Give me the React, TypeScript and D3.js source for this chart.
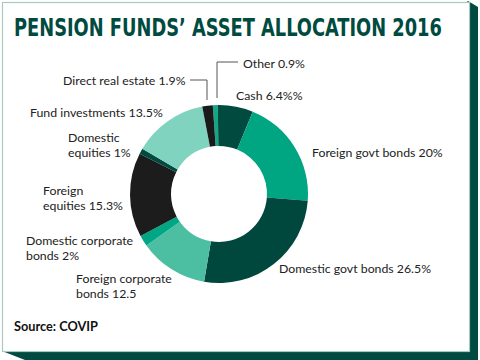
import React from "react";
import * as d3 from "d3";

const categories = [
  "Other",
  "Cash",
  "Foreign govt bonds",
  "Domestic govt bonds",
  "Foreign corporate bonds",
  "Domestic corporate bonds",
  "Foreign equities",
  "Domestic equities",
  "Fund investments",
  "Direct real estate",
];
const values = [0.9, 6.4, 20, 26.5, 12.5, 2, 15.3, 1, 13.5, 1.9];
const colors = [
  "#12a886",
  "#004a3f",
  "#00a582",
  "#00483d",
  "#4cbfa2",
  "#00a784",
  "#1c1c1c",
  "#004a3f",
  "#7fd3bf",
  "#1a1a1a",
];
const labelLines = [
  ["Other 0.9%"],
  ["Cash 6.4%%"],
  ["Foreign govt bonds 20%"],
  ["Domestic govt bonds 26.5%"],
  ["Foreign corporate", "bonds 12.5"],
  ["Domestic corporate", "bonds 2%"],
  ["Foreign", "equities 15.3%"],
  ["Domestic", "equities 1%"],
  ["Fund investments 13.5%"],
  ["Direct real estate 1.9%"],
];
const labelPos: [number, number, string][] = [
  [243, 68, "start"],
  [236, 100, "start"],
  [312, 157, "start"],
  [279, 273, "start"],
  [76, 283, "start"],
  [26, 245, "start"],
  [43, 195, "start"],
  [68, 142, "start"],
  [30, 117, "start"],
  [63, 85, "start"],
];
const titleText = "PENSION FUNDS’ ASSET ALLOCATION 2016";

function measure(text: string, font: string): number {
  try {
    const c = document.createElement("canvas");
    const ctx = c.getContext("2d");
    if (!ctx) return 0;
    ctx.font = font;
    return ctx.measureText(text).width;
  } catch (e) {
    return 0;
  }
}

export default function App() {
  const W = 480,
    H = 360;
  const cx = 219,
    cy = 194,
    rOuter = 89,
    rInner = 48;
  const off = -0.07;
  const pie = d3
    .pie<number>()
    .sort(null)
    .startAngle(off)
    .endAngle(2 * Math.PI + off)
    .value((d) => d);
  const arcs = pie(values);
  const arc = d3.arc<d3.PieArcDatum<number>>().innerRadius(rInner).outerRadius(rOuter);
  const font = "Lato, 'Open Sans', sans-serif";
  const titleFont = "'Liberation Sans Narrow', 'DejaVu Sans Condensed', Lato, sans-serif";
  const natural = measure(titleText, `700 25px ${titleFont}`);
  const sx = natural > 0 ? Math.min(1, 428 / natural) : 0.85;

  return (
    <svg
      width={W}
      height={H}
      style={{ position: "absolute", left: 0, top: 0, display: "block" }}
    >
      <rect x={0} y={0} width={W} height={H} fill="#ffffff" />
      <polygon
        points="468,1 478,7 478,360 25,360 2,351"
        fill="#004a3f"
      />
      <rect
        x={2.5}
        y={2.5}
        width={467}
        height={349}
        fill="#ffffff"
        stroke="#a8c8c0"
        strokeWidth={1.2}
      />
      <text
        transform={`translate(14,36) scale(${sx},1)`}
        fontFamily={titleFont}
        fontWeight={700}
        fontSize={25}
        fill="#004a3f"
      >
        {titleText}
      </text>
      <g transform={`translate(${cx},${cy})`}>
        {arcs.map((a, i) => (
          <path key={categories[i]} d={arc(a) || ""} fill={colors[i]} />
        ))}
      </g>
      <polyline
        points="238,62 217,62 217,98"
        fill="none"
        stroke="#555"
        strokeWidth={1}
      />
      <polyline
        points="190,80 207,80 207,100"
        fill="none"
        stroke="#555"
        strokeWidth={1}
      />
      {labelLines.map((lines, i) => (
        <text
          key={categories[i]}
          x={labelPos[i][0]}
          y={labelPos[i][1]}
          fontFamily={font}
          fontSize={12.3}
          fill="#222"
          textAnchor={labelPos[i][2]}
        >
          {lines.map((l, j) => (
            <tspan key={j} x={labelPos[i][0]} dy={j === 0 ? 0 : 14.5}>
              {l}
            </tspan>
          ))}
        </text>
      ))}
      <text
        x={14}
        y={331}
        fontFamily={font}
        fontWeight={700}
        fontSize={12.5}
        fill="#111"
        textLength={84}
        lengthAdjust="spacingAndGlyphs"
      >
        Source: COVIP
      </text>
    </svg>
  );
}
